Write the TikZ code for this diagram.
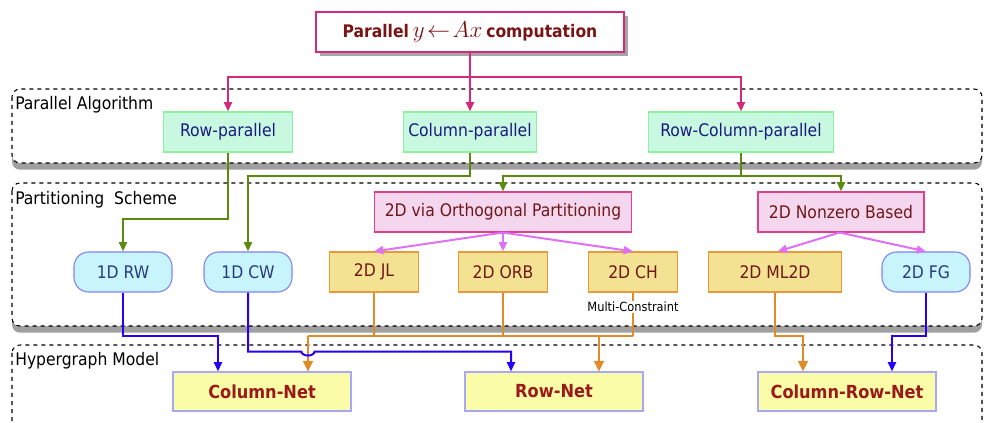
\documentclass[tikz,border=0pt]{standalone}
\usepackage{fontspec}
\setmainfont{DejaVu Sans Condensed}
\usetikzlibrary{arrows.meta,shadows}
\tikzset{>={Triangle[length=7pt,width=6pt]}}
\definecolor{titlered}{HTML}{7A1414}
\definecolor{pinkline}{HTML}{D42A7C}
\definecolor{greenfill}{HTML}{C8F8E0}
\definecolor{greenedge}{HTML}{90F0A0}
\definecolor{navytext}{HTML}{1A1A80}
\definecolor{oliveline}{HTML}{5A8A10}
\definecolor{orthfill}{HTML}{F4D6EE}
\definecolor{orthedge}{HTML}{E0408A}
\definecolor{darkred}{HTML}{701818}
\definecolor{violetline}{HTML}{E070F8}
\definecolor{cyanfill}{HTML}{C8F4FC}
\definecolor{cyanedge}{HTML}{8080F8}
\definecolor{cyantext}{HTML}{2A3A80}
\definecolor{yellowfill}{HTML}{F2E292}
\definecolor{yellowedge}{HTML}{E89A40}
\definecolor{orangeline}{HTML}{E08A28}
\definecolor{blueline}{HTML}{2400F8}
\definecolor{netfill}{HTML}{FAFCA8}
\definecolor{netedge}{HTML}{A8A8F8}
\definecolor{nettext}{HTML}{9A1A1A}
\tikzset{
  group/.style={draw=black,dashed,line width=0.8pt,rounded corners=6pt,fill=white,
    drop shadow={shadow xshift=0pt,shadow yshift=-5pt,opacity=0.75}},
  grouplabel/.style={anchor=north west,inner sep=0pt,font=\fontsize{13}{15}\selectfont},
  titlebox/.style={draw=pinkline,line width=0.8pt,fill=white,minimum width=231pt,minimum height=30pt,
    text=titlered,drop shadow={shadow xshift=3pt,shadow yshift=-3pt,opacity=0.7}},
  algbox/.style={draw=greenedge,line width=0.8pt,fill=greenfill,minimum height=30pt,text=navytext,
    font=\fontsize{13}{15}\selectfont},
  orthbox/.style={draw=orthedge,line width=0.8pt,fill=orthfill,minimum height=30pt,text=darkred,
    font=\fontsize{13}{15}\selectfont},
  roundbox/.style={draw=cyanedge,line width=0.8pt,fill=cyanfill,minimum height=30pt,text=cyantext,
    rounded corners=11pt,font=\fontsize{13}{15}\selectfont},
  partbox/.style={draw=yellowedge,line width=0.8pt,fill=yellowfill,minimum height=30pt,text=darkred,
    font=\fontsize{13}{15}\selectfont},
  netbox/.style={draw=netedge,line width=0.8pt,fill=netfill,minimum width=133.5pt,minimum height=29.25pt,
    text=nettext,font=\bfseries\fontsize{13.5}{15}\selectfont},
  pinkarrow/.style={draw=pinkline,line width=1.5pt,->},
  greenarrow/.style={draw=oliveline,line width=1.5pt},
  violetarrow/.style={draw=violetline,line width=1.5pt,->},
  bluearrow/.style={draw=blueline,line width=1.5pt},
  orangearrow/.style={draw=orangeline,line width=1.5pt},
  bigtip/.style={->,>={Triangle[length=8pt,width=7.5pt]}}
}
\begin{document}
\begin{tikzpicture}[x=0.75pt,y=-0.75pt]
\useasboundingbox (0,0) rectangle (984,423);
% layers
\draw[group] (12,89) rectangle (982,163);
\draw[group] (12,183) rectangle (982,326);
\draw[group] (12,345) rectangle (982,445);
\node[grouplabel] (alglabel) at (15,96) {Parallel Algorithm};
\node[grouplabel] (partlabel) at (15,191) {Partitioning\ \ Scheme};
\node[grouplabel] (hyplabel) at (15,352) {Hypergraph Model};

% top
\node[titlebox] (title) at (470,32) {{\bfseries\fontsize{13}{15}\selectfont Parallel} {\fontsize{19}{21}\selectfont $y\!\leftarrow\! Ax$} {\bfseries\fontsize{13}{15}\selectfont computation}};

% algorithms
\node[algbox,minimum width=96.75pt] (rowpar) at (228,132) {Row-parallel};
\node[algbox,minimum width=99.75pt] (colpar) at (470,132) {Column-parallel};
\node[algbox,minimum width=138.75pt] (rcpar) at (741,132) {Row-Column-parallel};

% schemes
\node[orthbox,minimum width=192.75pt] (orth) at (503,212) {2D via Orthogonal Partitioning};
\node[orthbox,minimum width=124.5pt] (nonzero) at (841,212) {2D Nonzero Based};
\node[roundbox,minimum width=73.5pt] (rw) at (123,272) {1D RW};
\node[roundbox,minimum width=66pt] (cw) at (248,272) {1D CW};
\node[partbox,minimum width=66.75pt] (jl) at (374,272) {2D JL};
\node[partbox,minimum width=66.75pt] (orb) at (503,272) {2D ORB};
\node[partbox,minimum width=66.75pt] (ch) at (633,272) {2D CH};
\node[partbox,minimum width=99.75pt] (ml2d) at (775,272) {2D ML2D};
\node[roundbox,minimum width=66pt] (fg) at (926,272) {2D FG};

% models
\node[netbox] (colnet) at (262,391.5) {Column-Net};
\node[netbox] (rownet) at (554,391.5) {Row-Net};
\node[netbox] (crnet) at (847,391.5) {Column-Row-Net};
\coordinate (colnet-l) at ([xshift=-33pt]colnet.north);
\coordinate (colnet-r) at ([xshift=34.5pt]colnet.north);
\coordinate (rownet-l) at ([xshift=-32.25pt]rownet.north);
\coordinate (rownet-r) at ([xshift=33.75pt]rownet.north);
\coordinate (crnet-l) at ([xshift=-33pt]crnet.north);
\coordinate (crnet-r) at ([xshift=33.75pt]crnet.north);

% title to algorithms
\draw[pinkarrow] (title.south) -- ++(0,24) coordinate (split) -| (rowpar.north);
\draw[pinkarrow] (split) -| (rcpar.north);
\draw[pinkarrow] (title.south) -- (colpar.north);

% algorithms to schemes
\draw[greenarrow,->] (rowpar.south) -- ++(0,66) -| (rw.north);
\draw[greenarrow,->] (colpar.south) -- ++(0,23) -| (cw.north);
\draw[greenarrow] (rcpar.south) -- ++(0,23) coordinate (gsplit);
\draw[greenarrow,->] (gsplit) -| (orth.north);
\draw[greenarrow,->] (gsplit) -| (nonzero.north);
\draw[violetarrow] (orth.south) -- (jl.north);
\draw[violetarrow] (orth.south) -- (orb.north);
\draw[violetarrow] (orth.south) -- (ch.north);
\draw[violetarrow] ([xshift=-1pt]nonzero.south) -- ([xshift=2pt]ml2d.north);
\draw[violetarrow] ([xshift=-1pt]nonzero.south) -- (fg.north);

% schemes to models
\draw[orangearrow] (jl.south) -- ++(0,43) coordinate (obus);
\draw[orangearrow] (orb.south) -- ++(0,43);
\draw[orangearrow] (ch.south) -- ++(0,43) coordinate (obusend);
\node[fill=white,inner sep=1pt,font=\fontsize{9.5}{11}\selectfont] (multi) at (633,307) {Multi-Constraint};
\draw[orangearrow] (colnet-r |- obus) -- (obusend);
\draw[orangearrow,bigtip] (colnet-r |- obus) -- (colnet-r);
\draw[orangearrow,bigtip] (rownet-r |- obus) -- (rownet-r);
\draw[orangearrow,bigtip] (ml2d.south) -- ++(0,43) -| (crnet-l);
\draw[bluearrow,->] (rw.south) -- ++(0,43) -| (colnet-l);
\draw[bluearrow,->] (cw.south) -- ++(0,59) coordinate (bjump)
  -- ([xshift=-5pt]colnet-r |- bjump) arc[start angle=180,end angle=0,x radius=6.6,y radius=4]
  -- (rownet-l |- bjump) -- (rownet-l);
\draw[bluearrow,->] (fg.south) -- ++(0,43) -| (crnet-r);
\end{tikzpicture}
\end{document}
